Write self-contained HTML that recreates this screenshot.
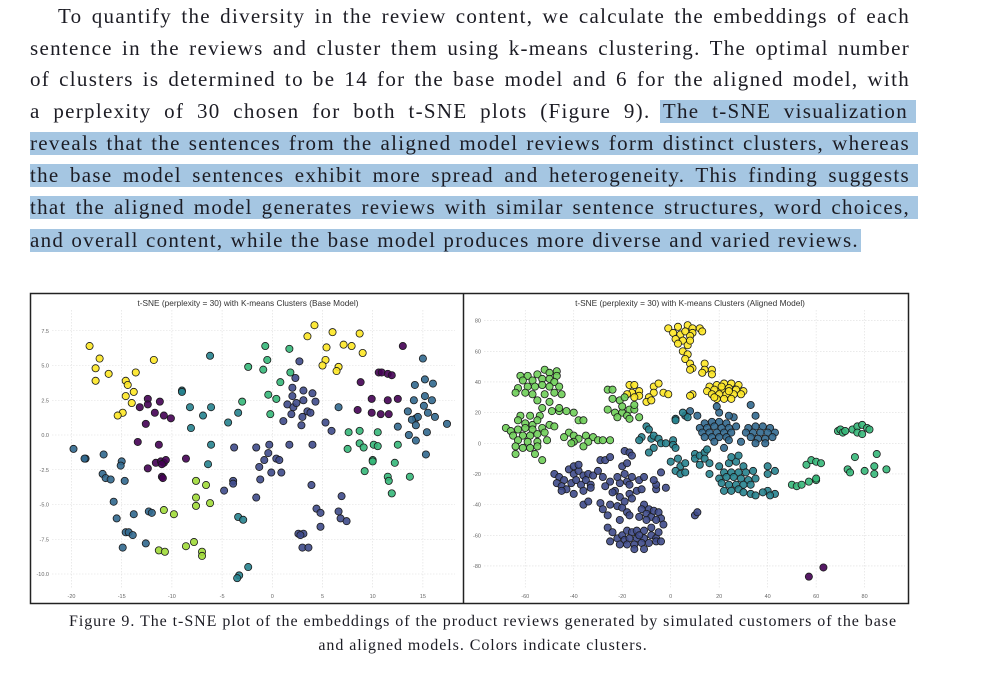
<!DOCTYPE html>
<html><head><meta charset="utf-8"><style>
body{margin:0;width:1000px;height:677px;background:#fff;position:relative;overflow:hidden;font-family:"Liberation Serif",serif;color:#1c1c24}
.ln{position:absolute;left:30px;width:880px;font-size:21px;letter-spacing:1.3px;line-height:24px;text-align:justify;text-align-last:justify;white-space:nowrap}
.hl{position:absolute;background:#a5c6e2}
.cap{position:absolute;left:30px;width:906px;text-align:center;font-size:16px;letter-spacing:0.95px;line-height:24px}
svg{position:absolute;left:0;top:0}
</style></head><body>
<div class="hl" style="left:660px;top:100px;width:256px;height:23px"></div>
<div class="hl" style="left:30px;top:132px;width:888px;height:23px"></div>
<div class="hl" style="left:30px;top:164px;width:888px;height:23px"></div>
<div class="hl" style="left:30px;top:196px;width:888px;height:23px"></div>
<div class="hl" style="left:30px;top:229px;width:831px;height:23px"></div>
<div class="ln" style="top:4px;left:58px;width:852px">To quantify the diversity in the review content, we calculate the embeddings of each</div>
<div class="ln" style="top:36px">sentence in the reviews and cluster them using k-means clustering. The optimal number</div>
<div class="ln" style="top:67px">of clusters is determined to be 14 for the base model and 6 for the aligned model, with</div>
<div class="ln" style="top:99px;width:878px">a perplexity of 30 chosen for both t-SNE plots (Figure 9). The t-SNE visualization</div>
<div class="ln" style="top:131px;width:880px">reveals that the sentences from the aligned model reviews form distinct clusters, whereas</div>
<div class="ln" style="top:163px">the base model sentences exhibit more spread and heterogeneity. This finding suggests</div>
<div class="ln" style="top:195px">that the aligned model generates reviews with similar sentence structures, word choices,</div>
<div class="ln" style="top:228px;width:829px">and overall content, while the base model produces more diverse and varied reviews.</div>
<div class="cap" style="top:610px">Figure 9. The t-SNE plot of the embeddings of the product reviews generated by simulated customers of the base</div>
<div class="cap" style="top:634px">and aligned models. Colors indicate clusters.</div>
<svg id="fig" width="1000" height="677"></svg>
<script>
// ---- data: base model (x, y, cluster) ----
const baseX=[-18.2,-17.2,-17.6,-17.6,-16.3,-14.6,-14.4,-13.6,-11.8,-13.8,-14.6,-14,-14.9,-15.4,4.2,3.5,6,8.7,7.1,7.9,5.4,9,5.3,5,6.6,6.4,
-12.4,-11.2,-12.4,-13.2,-11.7,-10.8,-10.1,-12.6,-13.4,-11.3,-11.6,-11.1,-10.8,-10.6,-11,-12.4,-11,-10.9,-8.6,13,10.6,10.9,11.5,11.9,8.8,9.9,11.5,12.5,8.5,9.9,10.8,11.6,
-3.8,-1.6,-0.3,-0.4,-0.8,0.4,0.7,-1.3,-0.1,0.9,-1.2,-3.9,-3.9,-4.8,-1.6,3.9,4.4,4.8,6.6,6.8,7.4,6.9,4.8,2.6,3.1,2.8,3,3.6,
2.7,2.3,2,3.1,4,2,1.5,2.1,2.4,3.1,4.3,1.9,3.5,3.8,3,1.1,2.9,5.3,5.9,1.7,4,
-19.8,-18.6,-18.7,-16.8,-15,-15.1,-16.9,-16.6,-16.1,-14.7,-15.8,-15.5,-13.8,-12.3,-12,-14.6,-14.3,-13.9,-14.9,-12.6,15,15.2,16,14.2,15.2,14.1,15.9,15.1,13.5,15.5,14.3,14.5,13.9,16.2,17.4,12.5,14.3,15.4,13.6,14.3,15.3,6.6,
-9,-9,-8.2,-6.1,-3.4,-6.9,-4.4,-8.1,-6.1,-6.4,-6.2,-3.4,-2.9,-3.3,-3.5,-2.4,
-0.7,1.7,-0.5,-2.4,-0.9,1.8,0.8,-0.4,0.4,-3,-0.2,7.6,8.7,10.5,7.5,8.7,9.1,10.1,10.5,12.5,10,10,12.2,9.2,11.5,11.6,13.7,11.9,
-7.6,-6.6,-7.6,-7.6,-6.2,-10.8,-9.8,-11.3,-10.7,-8.6,-7.8,-7,-7];
const baseY=[6.4,5.5,4.8,3.9,4.4,3.9,3.6,4.5,5.4,3.1,2.8,2.3,1.6,1.4,7.9,7.1,7.4,7.3,6.5,6.4,6.3,5.9,5.4,5,4.9,4.6,
2.6,2.4,2.2,2,1.6,1.4,1.2,0.8,-0.5,-0.7,-2,-1.9,-2,-1.8,-2.1,-2.4,-3,-3.1,-1.7,6.4,4.5,4.5,4.4,4.3,3.8,2.6,2.5,2.6,1.8,1.6,1.5,1.5,
-0.9,-0.9,-0.7,-1.3,-1.8,-1.7,-1.8,-2.3,-2.7,-2.7,-3.2,-3.3,-3.5,-4,-4.5,-3.6,-5.3,-5.6,-5.5,-6,-6.2,-4.4,-6.6,-7.1,-7.1,-7.2,-8.1,-8.1,
5.3,4.1,3.4,3.2,3,2.8,2.2,2,2.3,2.5,2.4,1.5,1.7,1.6,1.3,1,0.7,0.9,0.3,-0.7,-0.7,
-1,-1.7,-1.7,-1.4,-1.9,-2.2,-2.8,-3.1,-3.2,-3.3,-4.8,-6,-5.7,-5.5,-5.6,-7,-7,-7.2,-8.1,-7.8,5.5,4,3.7,3.6,2.8,2.5,2.5,2.1,1.7,1.6,1.2,1.3,1.1,1.3,0.8,0.6,0.7,0.2,0,-0.4,-1.4,2,
3.2,3.1,2,2,1.6,1.4,0.9,0.5,-0.7,-2.1,5.7,-5.9,-6.1,-10.1,-10.3,-9.5,
6.4,6.2,5.4,4.9,4.7,4.5,3.8,2.9,2.6,2.4,1.5,0.2,0.3,0.2,-1,-0.6,-0.9,-0.7,-0.8,-0.7,-1.8,-1.9,-2,-2.6,-3,-3.3,-3,-4.2,
-3.3,-3.6,-4.5,-5.1,-4.9,-5.4,-5.7,-8.3,-8.4,-8,-7.7,-8.4,-8.7];
const baseC=[].concat(Array(26).fill(6),Array(32).fill(0),Array(28).fill(1),Array(21).fill(1),Array(42).fill(2),Array(16).fill(3),Array(28).fill(4),Array(13).fill(5));
// ---- data: aligned model (x, y, cluster) ----
const alX=[-1,3,7,9,1,4,6,9,12,13,2,5,8,3,7,8,5,7,6,8,9,8,14,14,17,13,17,-7,-5,-7,-3,-1,-9,-10,-8,-17,-15,-16,-13,-13,-15,-18,9,8,
16,19,22,25,28,15,18,21,24,27,30,17,20,23,26,29,19,22,25,21,24,18,
-62,-59,-55,-52,-50,-47,-47,-61,-57,-53,-50,-48,-63,-59,-56,-53,-50,-46,-64,-60,-57,-52,-48,-45,-55,-50,-53,-49,-46,-43,-40,-46,-38,-36,-62,-58,-54,-63,-60,-57,-55,-68,-66,-63,-60,-57,-53,-50,-48,-65,-61,-58,-55,-52,-63,-59,-55,-51,-64,-61,-58,-55,-64,-56,-53,-42,-40,-44,-38,-40,-35,-32,-30,-34,-28,-25,-36,-41,
-26,-24,-24,-21,-19,-26,-23,-20,-17,-15,-22,-18,-13,-17,-20,-15,
-48,-46,-44,-42,-40,-38,-36,-34,-32,-47,-45,-43,-41,-39,-37,-35,-33,-45,-40,-36,-33,-40,-38,-29,-27,-25,-30,-28,-25,-27,-23,-36,-34,-29,-28,-25,-26,-22,-20,-24,-21,-18,-22,-19,-16,-20,-18,-17,-21,-19,-17,-16,-14,-13,-11,-12,-19,-17,-16,-21,-18,-17,-11,-9,-12,-13,-10,-8,-7,-5,-4,-3,-6,-10,
-26,-24,-22,-25,-20,-18,-16,-14,-11,-19,-17,-14,-11,-8,-6,-21,-18,-15,-12,-9,-6,-15,-11,-4,-5,-8,-13,10,11,-6,-6,-4,-2,-7,
14,17,20,23,12,15,18,21,24,27,13,16,19,22,25,14,17,20,23,18,20,19,11,8,6,26,24,35,33,
32,35,38,41,31,34,37,40,43,33,36,39,42,35,39,24,29,22,
-10,-9,-12,-8,-7,-5,-4,-2,-7,-9,-13,1,1,2,2,2,7,5,0,3,4,6,2,4,6,10,10,12,14,15,14,16,12,16,
20,24,27,30,22,25,28,31,34,20,23,26,29,32,35,21,24,27,30,33,25,28,30,33,35,22,25,28,40,43,40,40,43,41,38,
50,52,54,57,60,60,56,58,60,62,69,70,71,72,75,77,79,81,77,79,82,76,73,74,80,84,84,85,89,
57,63];
const alY=[75,76,77,75,72,71,73,72,75,73,68,67,70,65,64,67,60,58,55,52,49,48,52,48,48,46,45,37,39,33,33,32,30,27,28,38,38,33,34,31,30,32,32,31,
37,38,39,39,38,34,35,35,36,35,34,32,32,32,32,32,29,29,29,37,34,30,
44,44,45,48,46,47,44,41,41,42,42,40,36,37,37,38,37,37,33,33,32,32,33,32,28,27,23,21,21,21,20,23,15,15,18,18,18,15,13,12,15,10,8,9,10,9,10,12,11,5,5,5,6,7,2,1,1,2,-2,-3,-3,-2,-7,-7,-11,7,5,4,3,1,5,4,2,1,2,2,-2,0,
35,35,29,28,30,22,20,20,22,22,17,18,17,16,24,25,
-20,-22,-24,-17,-20,-18,-21,-20,-21,-26,-28,-30,-26,-24,-27,-24,-27,-31,-33,-31,-29,-15,-14,-11,-11,-9,-18,-22,-25,-28,-31,-40,-38,-39,-43,-40,-47,-41,-42,-32,-26,-25,-22,-20,-22,-15,-13,-27,-35,-38,-33,-36,-31,-24,-22,-30,-5,-6,-8,-50,-45,-47,-40,-43,-43,-48,-46,-48,-44,-45,-49,-53,-50,-50,
-55,-58,-62,-64,-60,-57,-58,-57,-57,-63,-62,-62,-62,-60,-62,-66,-66,-66,-65,-65,-64,-69,-69,-64,-58,-55,-60,-47,-45,-30,-27,-19,-29,-24,
13,14,14,13,10,10,11,10,10,11,7,7,7,7,7,4,4,4,4,1,20,24,18,21,18,17,18,18,25,
10,11,11,10,7,7,7,7,7,4,3,3,4,0,0,2,1,-3,
11,9,4,3,5,3,0,0,-3,-6,2,2,-1,-3,16,15,17,20,-12,-10,-15,-13,-18,-20,-19,-7,-10,-8,-6,-4,-10,-13,-14,-20,
-15,-13,-12,-15,-19,-19,-19,-19,-18,-23,-22,-22,-23,-24,-23,-26,-27,-27,-27,-27,-31,-30,-32,-33,-34,-31,-9,-8,-15,-18,-20,-31,-33,-34,-32,
-27,-28,-27,-25,-24,-23,-14,-11,-12,-13,8,9,7,8,9,11,12,10,7,6,9,-9,-17,-19,-18,-15,-20,-7,-17,
-87,-81];
const alC=[].concat(Array(66).fill(6),Array(78).fill(5),Array(16).fill(5),Array(74).fill(1),Array(34).fill(1),Array(29).fill(2),Array(18).fill(2),Array(34).fill(3),Array(35).fill(3),Array(29).fill(4),Array(2).fill(0));
const baseXTicks=[-20,-15,-10,-5,0,5,10,15], baseYTicks=[-10,-7.5,-5,-2.5,0,2.5,5,7.5];
const baseYLabels=["-10.0","-7.5","-5.0","-2.5","0.0","2.5","5.0","7.5"];
const alXTicks=[-60,-40,-20,0,20,40,60,80], alYTicks=[-80,-60,-40,-20,0,20,40,60,80];
const palette=["#440154","#3e4a89","#31688e","#26828e","#35b779","#6ece58","#fde725"];
const paletteB=["#440154","#3e4a89","#31688e","#26828e","#35b779","#a0da39","#fde725"];

const NS="http://www.w3.org/2000/svg", svg=document.getElementById('fig');
function mk(t,a,p){const e=document.createElementNS(NS,t);for(const k in a)e.setAttribute(k,a[k]);(p||svg).appendChild(e);return e;}
const frame=mk('rect',{x:30.5,y:293.5,width:878,height:310,fill:'none',stroke:'#222','stroke-width':1.5});


const div=mk('line',{x1:463.5,y1:293,x2:463.5,y2:604,stroke:'#222','stroke-width':1.5});



function panel(name,title,titleX,sx,sy,xt,yt,xl,yl,X,Y,C,pal,box){
  const g=mk('g',{});
  
  
  xt.forEach((v,i)=>{
    const l=mk('line',{x1:sx(v),x2:sx(v),y1:box[1],y2:box[3],stroke:'#ddd','stroke-width':0.6,'stroke-dasharray':'1.5,1.5'},g);
    
    
    const t=mk('text',{x:sx(v),y:box[3]+10,'font-size':5.5,'text-anchor':'middle',fill:'#666','font-family':'Liberation Sans, sans-serif'},g);
    t.textContent=xl[i];
    
    
  });
  yt.forEach((v,i)=>{
    const l=mk('line',{x1:box[0],x2:box[2],y1:sy(v),y2:sy(v),stroke:'#ddd','stroke-width':0.6,'stroke-dasharray':'1.5,1.5'},g);
    
    
    const t=mk('text',{x:box[0]-3,y:sy(v)+2,'font-size':5.5,'text-anchor':'end',fill:'#666','font-family':'Liberation Sans, sans-serif'},g);
    t.textContent=yl[i];
    
    
  });
  const tt=mk('text',{x:titleX,y:306,'font-size':8.3,'text-anchor':'middle',fill:'#333','font-family':'Liberation Sans, sans-serif'},g);
  tt.textContent=title;
  
  
  for(let i=0;i<X.length;i++){
    const c=mk('circle',{cx:sx(X[i]),cy:sy(Y[i]),r:3.6,fill:pal[C[i]],stroke:'#1a1a1a','stroke-width':0.8,'fill-opacity':0.9},g);
    
    
  }
}
panel('base-model-plot','t-SNE (perplexity = 30) with K-means Clusters (Base Model)',248,
  v=>272.3+v*10.04, v=>435-v*13.9, baseXTicks,baseYTicks,baseXTicks.map(String),baseYLabels,
  baseX,baseY,baseC,paletteB,[52,310,455,588]);
panel('aligned-model-plot','t-SNE (perplexity = 30) with K-means Clusters (Aligned Model)',690,
  v=>670.7+v*2.424, v=>443.3-v*1.533, alXTicks,alYTicks,alXTicks.map(String),alYTicks.map(String),
  alX,alY,alC,palette,[484,310,905,588]);
</script>
</body></html>
